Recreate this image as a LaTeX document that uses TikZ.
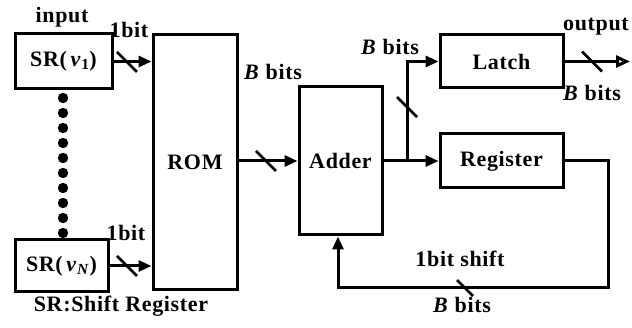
\documentclass[tikz,border=0pt]{standalone}
\usepackage{fontspec}
\setmainfont{Liberation Serif}[LetterSpace=3]
\usetikzlibrary{arrows.meta}
\begin{document}
\begin{tikzpicture}[x=1pt,y=-1pt,line width=3pt,
  font=\fontsize{22}{24}\selectfont\bfseries,
  >={Triangle[length=13pt,width=11pt]},
  box/.style={draw,line width=3pt,inner sep=0pt},
  lbl/.style={inner sep=0pt},
  slash/.pic={\draw[line width=2.5pt] (-10,-10) -- (10,10);}]
\useasboundingbox (0,0) rectangle (632,328);
% boxes
\node[box,minimum width=97pt,minimum height=55pt] (sr1) at (63.5,61.5) {SR(\,\textit{v}\textsubscript{1})};
\node[box,minimum width=93pt,minimum height=52pt] (srn) at (61.5,266) {SR(\,\textit{v}\textsubscript{\textit{N}})};
\node[box,minimum width=84pt,minimum height=255pt] (rom) at (195,162.5) {ROM};
\node[box,minimum width=83pt,minimum height=148pt] (adder) at (340.5,161) {Adder};
\node[box,minimum width=123pt,minimum height=53pt] (latch) at (501.5,61.5) {Latch};
\node[box,minimum width=123pt,minimum height=54pt] (reg) at (501.5,161) {Register};
% dots
\foreach \i in {0,...,9} \fill (63,98+15*\i) circle (5.2pt);
% connectors
\draw[->] (sr1.east) -- (sr1.east -| rom.west);
\draw[->] (srn.east) -- (srn.east -| rom.west);
\draw[->] (adder.west -| rom.east) -- (adder.west);
\coordinate (j) at (407,161);
\draw[->] (adder.east) -- (reg.west);
\draw[->] (j) |- (latch.west);
\coordinate (out) at (630,61.5);
\draw[-{Triangle[open,length=14pt,width=12pt]}] (latch.east) -- (out);
\coordinate (fb1) at (608,288);
\coordinate (fb) at (338,288);
\draw[->] (reg.east) -| (fb1) -- (fb) -- (fb |- adder.south);
% slashes
\pic at (127,62) {slash};
\pic at (127,266) {slash};
\pic at (266,161) {slash};
\pic at (407,107) {slash};
\pic at (592,61.5) {slash};
\pic[scale=0.8] at (465,288) {slash};
% labels
\node[lbl] (in) at (62,17) {input};
\node[lbl] (b1) at (129,30) {1bit};
\node[lbl] (bn) at (126,233) {1bit};
\node[lbl] (srl) at (121,306) {SR:Shift Register};
\node[lbl] (bb1) at (273,72) {\textit{B} bits};
\node[lbl] (bb2) at (390,47) {\textit{B} bits};
\node[lbl] (outl) at (596,27) {output};
\node[lbl] (bb3) at (592,93) {\textit{B} bits};
\node[lbl] (sh) at (460,259) {1bit shift};
\node[lbl] (bb4) at (462,305) {\textit{B} bits};
\end{tikzpicture}
\end{document}
